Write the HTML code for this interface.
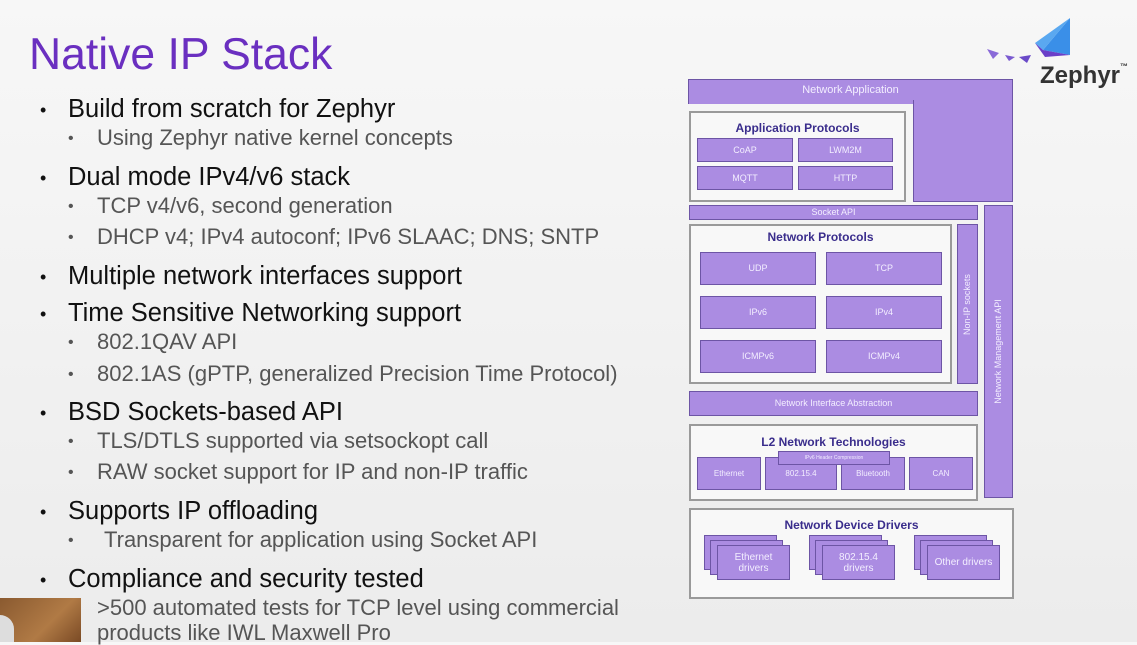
<!DOCTYPE html>
<html><head><meta charset="utf-8"><style>
*{margin:0;padding:0;box-sizing:border-box}
body{width:1137px;height:642px;overflow:hidden;position:relative;background:linear-gradient(180deg,#f7f7f7,#ececec);font-family:"Liberation Sans",sans-serif}
.t{position:absolute;white-space:nowrap}
.l1{font-size:25.5px;line-height:26px;color:#111}
.l2{font-size:22px;line-height:22px;color:#555}
.d1{font-size:18px}
.d2{font-size:16px}
.r{position:absolute;background:#ab8ce2;border:1.5px solid #6d55a5;color:#f3eeff;font-size:9px;display:flex;align-items:center;justify-content:center;text-align:center;line-height:11px}
.w{position:absolute;background:#f8f8f8;border:2px solid #9a9a9a}
.h{position:absolute;color:#3a2d8c;font-size:12px;font-weight:bold;text-align:center;white-space:nowrap}
</style></head><body>
<div class="t" style="left:29px;top:32px;font-size:44.5px;line-height:46px;color:#6a2fc0">Native IP Stack</div>

<div class="t l1 d1" style="left:40px;top:97px">•</div><div class="t l1" style="left:68px;top:96px">Build from scratch for Zephyr</div>
<div class="t l2 d2" style="left:68px;top:128px">•</div><div class="t l2" style="left:97px;top:127px">Using Zephyr native kernel concepts</div>
<div class="t l1 d1" style="left:40px;top:165px">•</div><div class="t l1" style="left:68px;top:164px">Dual mode IPv4/v6 stack</div>
<div class="t l2 d2" style="left:68px;top:196px">•</div><div class="t l2" style="left:97px;top:195px">TCP v4/v6, second generation</div>
<div class="t l2 d2" style="left:68px;top:227px">•</div><div class="t l2" style="left:97px;top:226px">DHCP v4; IPv4 autoconf; IPv6 SLAAC; DNS; SNTP</div>
<div class="t l1 d1" style="left:40px;top:264px">•</div><div class="t l1" style="left:68px;top:263px">Multiple network interfaces support</div>
<div class="t l1 d1" style="left:40px;top:301px">•</div><div class="t l1" style="left:68px;top:300px">Time Sensitive Networking support</div>
<div class="t l2 d2" style="left:68px;top:332px">•</div><div class="t l2" style="left:97px;top:331px">802.1QAV API</div>
<div class="t l2 d2" style="left:68px;top:364px">•</div><div class="t l2" style="left:97px;top:363px">802.1AS (gPTP, generalized Precision Time Protocol)</div>
<div class="t l1 d1" style="left:40px;top:400px">•</div><div class="t l1" style="left:68px;top:399px">BSD Sockets-based API</div>
<div class="t l2 d2" style="left:68px;top:431px">•</div><div class="t l2" style="left:97px;top:430px">TLS/DTLS supported via setsockopt call</div>
<div class="t l2 d2" style="left:68px;top:462px">•</div><div class="t l2" style="left:97px;top:461px">RAW socket support for IP and non-IP traffic</div>
<div class="t l1 d1" style="left:40px;top:499px">•</div><div class="t l1" style="left:68px;top:498px">Supports IP offloading</div>
<div class="t l2 d2" style="left:68px;top:530px">•</div><div class="t l2" style="left:104px;top:529px">Transparent for application using Socket API</div>
<div class="t l1 d1" style="left:40px;top:567px">•</div><div class="t l1" style="left:68px;top:566px">Compliance and security tested</div>
<div class="t l2" style="left:97px;top:597px">&gt;500 automated tests for TCP level using commercial</div>
<div class="t l2" style="left:97px;top:622px">products like IWL Maxwell Pro</div>
<div style="position:absolute;left:0;top:598px;width:81px;height:44px;background:linear-gradient(135deg,#8a5a30,#b07a45 60%,#7a4a25)"></div>
<div style="position:absolute;left:0;top:615px;width:14px;height:27px;background:#ddd;border-radius:0 14px 0 0"></div>

<!-- logo -->
<svg style="position:absolute;left:985px;top:15px" width="90" height="50">
<polygon points="85,3 85,40 58,35" fill="#3a8fe8"/>
<polygon points="85,3 58,35 50,28" fill="#5aa8f0"/>
<polygon points="50,28 58,35 85,40 60,42" fill="#6a3fc8"/>
<polygon points="2,34 14,38 8,44" fill="#8a6ad8"/>
<polygon points="20,40 30,42 24,46" fill="#7a5ad0"/>
<polygon points="34,42 46,40 42,48" fill="#6a4ac8"/>
</svg>
<div class="t" style="left:1040px;top:62px;font-size:24px;font-weight:bold;color:#333">Zephyr<span style="font-size:8px;vertical-align:top">™</span></div>

<!-- diagram -->
<div class="r" style="left:688px;top:79px;width:325px;height:25px;font-size:11px;border-bottom:none;align-items:flex-start;padding-top:5px">Network Application</div>
<div class="r" style="left:913px;top:100px;width:100px;height:102px;border-top:none"></div>
<div class="w" style="left:689px;top:111px;width:217px;height:91px"></div>
<div class="h" style="left:689px;top:121px;width:217px">Application Protocols</div>
<div class="r" style="left:697px;top:138px;width:96px;height:24px">CoAP</div>
<div class="r" style="left:798px;top:138px;width:95px;height:24px">LWM2M</div>
<div class="r" style="left:697px;top:166px;width:96px;height:24px">MQTT</div>
<div class="r" style="left:798px;top:166px;width:95px;height:24px">HTTP</div>
<div class="r" style="left:689px;top:205px;width:289px;height:15px">Socket API</div>
<div class="r" style="left:984px;top:205px;width:29px;height:293px"><span style="transform:rotate(-90deg);white-space:nowrap;display:block">Network Management API</span></div>
<div class="w" style="left:689px;top:224px;width:263px;height:160px"></div>
<div class="h" style="left:689px;top:230px;width:263px">Network Protocols</div>
<div class="r" style="left:700px;top:252px;width:116px;height:33px">UDP</div>
<div class="r" style="left:826px;top:252px;width:116px;height:33px">TCP</div>
<div class="r" style="left:700px;top:296px;width:116px;height:33px">IPv6</div>
<div class="r" style="left:826px;top:296px;width:116px;height:33px">IPv4</div>
<div class="r" style="left:700px;top:340px;width:116px;height:33px">ICMPv6</div>
<div class="r" style="left:826px;top:340px;width:116px;height:33px">ICMPv4</div>
<div class="r" style="left:957px;top:224px;width:21px;height:160px"><span style="transform:rotate(-90deg);white-space:nowrap;display:block">Non-IP sockets</span></div>
<div class="r" style="left:689px;top:391px;width:289px;height:25px">Network Interface Abstraction</div>
<div class="w" style="left:689px;top:424px;width:289px;height:77px"></div>
<div class="h" style="left:689px;top:435px;width:289px">L2 Network Technologies</div>
<div class="r" style="left:697px;top:457px;width:64px;height:33px;font-size:8px">Ethernet</div>
<div class="r" style="left:765px;top:457px;width:72px;height:33px;font-size:8px">802.15.4</div>
<div class="r" style="left:841px;top:457px;width:64px;height:33px;font-size:8px">Bluetooth</div>
<div class="r" style="left:909px;top:457px;width:64px;height:33px;font-size:8px">CAN</div>
<div class="r" style="left:778px;top:451px;width:112px;height:14px;font-size:5px">IPv6 Header Compression</div>
<div class="w" style="left:689px;top:508px;width:325px;height:91px"></div>
<div class="h" style="left:689px;top:518px;width:325px">Network Device Drivers</div>
<div class="r" style="left:704px;top:535px;width:73px;height:35px"></div>
<div class="r" style="left:710px;top:540px;width:73px;height:35px"></div>
<div class="r" style="left:717px;top:545px;width:73px;height:35px;font-size:10px">Ethernet<br>drivers</div>
<div class="r" style="left:809px;top:535px;width:73px;height:35px"></div>
<div class="r" style="left:815px;top:540px;width:73px;height:35px"></div>
<div class="r" style="left:822px;top:545px;width:73px;height:35px;font-size:10px">802.15.4<br>drivers</div>
<div class="r" style="left:914px;top:535px;width:73px;height:35px"></div>
<div class="r" style="left:920px;top:540px;width:73px;height:35px"></div>
<div class="r" style="left:927px;top:545px;width:73px;height:35px;font-size:10px">Other drivers</div>
</body></html>
